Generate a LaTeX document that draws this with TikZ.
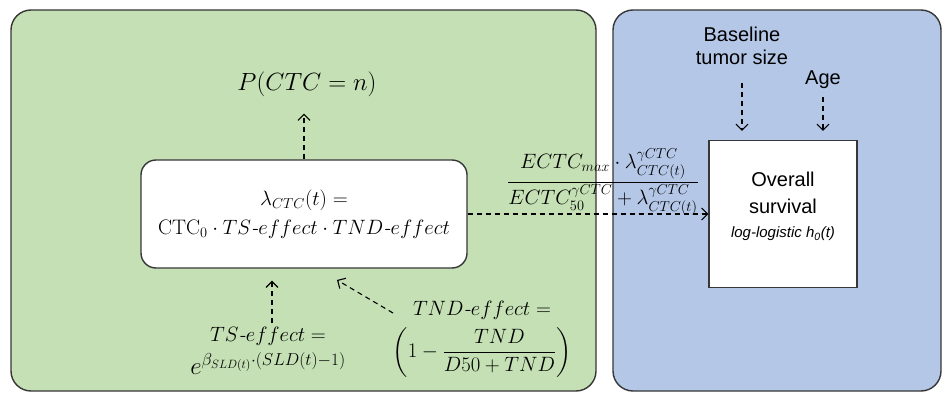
\documentclass[tikz,border=0pt]{standalone}
\usepackage{amsmath}
\usepackage{fontspec}
\setsansfont{Liberation Sans}
\usetikzlibrary{arrows.meta}
\definecolor{pgreen}{RGB}{197,224,180}
\definecolor{pblue}{RGB}{180,199,231}
\definecolor{edge}{RGB}{55,55,55}
\begin{document}
\begin{tikzpicture}[x=1pt,y=-1pt,
  panel/.style={draw=edge,line width=1.4pt,rounded corners=20pt},
  dar/.style={dash pattern=on 5pt off 4pt,line width=1.1pt,
    -{Straight Barb[length=6pt,width=12pt,line width=1.1pt]}},
  mtext/.style={font=\fontsize{21}{25}\selectfont,inner sep=0pt,align=center},
  stext/.style={font=\sffamily\fontsize{20}{23}\selectfont,inner sep=0pt,align=center}]
\useasboundingbox (0,0) rectangle (943,393);
\fill[white] (0,0) rectangle (943,393);
\draw[panel,fill=pgreen] (11,10) rectangle (596,391);
\draw[panel,fill=pblue] (613,10) rectangle (941,391);

% left panel
\node[mtext,draw=edge,fill=white,line width=1.4pt,rounded corners=15pt,
      minimum width=326pt,minimum height=108pt] (lam) at (304,214)
  {$\lambda_{CTC}(t) =$\\[4pt]
   $\mathrm{CTC}_0\cdot TS\textit{-}effect\cdot TND\textit{-}effect$};
\node[mtext,font=\fontsize{24}{28}\selectfont] (P) at (307,84) {$P(CTC = n)$};
\node[mtext] (ts) at (268,351)
  {$TS\textit{-}effect =$\\[6pt]{\fontsize{23}{27}\selectfont$e^{\beta_{SLD(t)}\cdot(SLD(t)-1)}$}};
\node[mtext] (tnd) at (482,339)
  {$TND\textit{-}effect =$\\[7pt]$\displaystyle\left(1-\frac{TND}{D50+TND}\right)$};
\coordinate (tndtail) at (393,313);
\coordinate (tndtip) at (337,280);

% right panel
\node[draw=edge,fill=white,line width=1.2pt,minimum width=148pt,minimum height=147pt] (os) at (783,214) {};
\node[stext,font=\sffamily\fontsize{20}{27}\selectfont] (ostitle) at (783,193) {Overall\\survival};
\node[stext,font=\sffamily\itshape\fontsize{15}{18}\selectfont] (h0) at (783,234) {log-logistic h\textsubscript{0}(t)};
\node[stext] (base) at (742,46) {Baseline\\tumor size};
\node[stext] (age) at (823,80) {Age};

% fraction label
\node[mtext] (frac) at (603,182)
  {$\dfrac{ECTC_{max}\cdot\lambda^{\gamma CTC}_{CTC(t)}}{ECTC_{50}^{\gamma CTC}+\lambda^{\gamma CTC}_{CTC(t)}}$};

% connectors
\draw[dar,shorten >=17pt] (lam.north) -- (P.south -| lam.north);
\draw[dar] (lam.east) -- (os.west);
\draw[dar,shorten <=4pt,shorten >=12pt] (ts.north -| 272,0) -- (lam.south -| 272,0);
\draw[dar] (tndtail) -- (tndtip);
\draw[dar,shorten <=18pt,shorten >=9pt] (base.south) -- (base.south |- os.north);
\draw[dar,shorten <=8pt,shorten >=9pt] (age.south) -- (age.south |- os.north);
\end{tikzpicture}
\end{document}
